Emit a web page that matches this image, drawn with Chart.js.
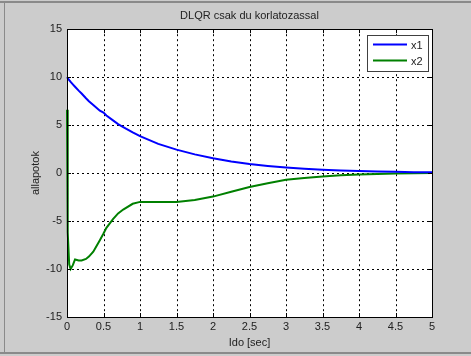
<!DOCTYPE html>
<html lang="en">
<head>
    <meta charset="UTF-8">
    <title>DLQR csak du korlatozassal</title>
    <script src="https://cdn.jsdelivr.net/npm/chart.js"></script>
    <style>
        html, body { margin: 0; padding: 0; background: #cccccc; }
        canvas { display: block; }
    </style>
</head>
<body>
<canvas id="c" width="471" height="356"></canvas>
<script>
    // values
    const time = [0, 0.01, 0.03, 0.05, 0.08, 0.11, 0.16, 0.2, 0.26, 0.3, 0.36, 0.45, 0.5, 0.54, 0.63, 0.7, 0.77, 0.9, 1.0,
                  1.25, 1.5, 1.75, 2, 2.25, 2.5, 2.75, 3, 3.25, 3.5, 3.75, 4, 4.25, 4.5, 4.75, 5];
    const x1 = [10, 9.9, 9.7, 9.5, 9.25, 9.0, 8.6, 8.3, 7.8, 7.5, 7.1, 6.5, 6.3, 6.0, 5.5, 5.1, 4.8, 4.25, 3.85,
                3.05, 2.45, 1.95, 1.55, 1.2, 0.95, 0.75, 0.58, 0.45, 0.35, 0.28, 0.22, 0.17, 0.13, 0.1, 0.08];
    const x2 = [6.6, -6.2, -9.5, -10, -9.6, -9.0, -9.1, -9.1, -8.95, -8.7, -8.2, -7.0, -6.3, -5.7, -4.8, -4.2, -3.8, -3.2, -3.0,
                -3.0, -3.0, -2.8, -2.45, -1.95, -1.45, -1.05, -0.7, -0.5, -0.35, -0.22, -0.15, -0.1, -0.05, -0.02, 0];
    const seriesNames = ['x1', 'x2'];
    const seriesColors = ['#0000ff', '#008000'];
    const yTicks = [-15, -10, -5, 0, 5, 10, 15];

    const font = { family: '"Liberation Sans", Arial, sans-serif', size: 11 };

    // grey figure, white axes, dotted grid, box, inner ticks and the legend
    const matlabLook = {
        id: 'matlabLook',
        beforeDraw(chart) {
            const c = chart.ctx, a = chart.chartArea;
            c.save();
            c.fillStyle = '#cccccc';
            c.fillRect(0, 0, chart.width, chart.height);
            c.fillStyle = '#8a8a8a';
            c.fillRect(0, 1, chart.width, 2);
            c.fillRect(4, 1, 1, 352);
            c.fillRect(0, 352, chart.width, 2);
            c.fillStyle = '#ffffff';
            c.fillRect(a.left, a.top, a.right - a.left, a.bottom - a.top);
            c.restore();
        },
        beforeDatasetsDraw(chart) {
            const c = chart.ctx, a = chart.chartArea;
            const xs = chart.scales.x, ys = chart.scales.y;
            c.save();
            c.strokeStyle = '#000';
            c.lineWidth = 1;
            c.setLineDash([2, 3]);
            c.beginPath();
            xs.ticks.forEach(t => {
                const px = Math.round(xs.getPixelForValue(t.value)) + 0.5;
                c.moveTo(px, a.top); c.lineTo(px, a.bottom);
            });
            ys.ticks.forEach(t => {
                const py = Math.round(ys.getPixelForValue(t.value)) + 0.5;
                c.moveTo(a.left, py); c.lineTo(a.right, py);
            });
            c.stroke();
            c.restore();
        },
        afterDraw(chart) {
            const c = chart.ctx, a = chart.chartArea;
            const xs = chart.scales.x, ys = chart.scales.y;
            c.save();
            c.strokeStyle = '#000';
            c.lineWidth = 1;
            c.beginPath();
            xs.ticks.forEach(t => {
                const px = Math.round(xs.getPixelForValue(t.value)) + 0.5;
                c.moveTo(px, a.bottom); c.lineTo(px, a.bottom - 4);
                c.moveTo(px, a.top); c.lineTo(px, a.top + 4);
            });
            ys.ticks.forEach(t => {
                const py = Math.round(ys.getPixelForValue(t.value)) + 0.5;
                c.moveTo(a.left, py); c.lineTo(a.left + 4, py);
                c.moveTo(a.right, py); c.lineTo(a.right - 4, py);
            });
            c.stroke();
            c.strokeRect(Math.round(a.left) + 0.5, Math.round(a.top) + 0.5,
                Math.round(a.right - a.left), Math.round(a.bottom - a.top));

            // legend in the top right corner
            const lw = 61, lh = 36;
            const lx = Math.round(a.right) - 65, ly = Math.round(a.top) + 6;
            c.fillStyle = '#ffffff';
            c.fillRect(lx, ly, lw, lh);
            c.strokeStyle = '#404040';
            c.strokeRect(lx + 0.5, ly + 0.5, lw, lh);
            c.font = '11px ' + font.family;
            c.textBaseline = 'middle';
            chart.data.datasets.forEach((ds, i) => {
                const yy = ly + 9.5 + i * 16;
                c.strokeStyle = ds.borderColor;
                c.lineWidth = 2;
                c.beginPath();
                c.moveTo(lx + 6, yy); c.lineTo(lx + 40, yy);
                c.stroke();
                c.fillStyle = '#222';
                c.fillText(ds.label, lx + 44, yy + 1);
            });
            c.restore();
        }
    };

    new Chart(document.getElementById('c'), {
        type: 'line',
        data: {
            datasets: seriesNames.map((name, i) => ({
                label: name,
                data: time.map((t, k) => ({ x: t, y: (i === 0 ? x1 : x2)[k] })),
                borderColor: seriesColors[i],
                borderWidth: 2,
                pointRadius: 0,
                tension: 0,
                clip: false
            }))
        },
        options: {
            responsive: false,
            animation: false,
            layout: { padding: { left: 29, right: 39, top: 0, bottom: 6 } },
            plugins: {
                legend: { display: false },
                tooltip: { enabled: false },
                title: {
                    display: true,
                    fullSize: false,
                    text: 'DLQR csak du korlatozassal',
                    color: '#222',
                    font: { ...font, weight: 'normal' },
                    padding: { top: 9, bottom: 7 }
                }
            },
            scales: {
                x: {
                    type: 'linear',
                    min: 0, max: 5,
                    ticks: { stepSize: 0.5, color: '#222', font: font, padding: 3, maxRotation: 0,
                             callback: v => String(v) },
                    grid: { display: false, drawTicks: false },
                    border: { display: false },
                    title: { display: true, text: 'Ido [sec]', color: '#222', font: font, padding: 0 },
                    afterFit(s) { s.height = 33; }
                },
                y: {
                    min: -15, max: 15,
                    afterBuildTicks(s) { s.ticks = yTicks.map(v => ({ value: v })); },
                    ticks: { color: '#222', font: font, padding: 5, callback: v => String(v) },
                    grid: { display: false, drawTicks: false },
                    border: { display: false },
                    title: { display: true, text: 'allapotok', color: '#222', font: font, padding: 0 },
                    afterFit(s) { s.width = 38; }
                }
            }
        },
        plugins: [matlabLook]
    });
</script>
</body>
</html>
